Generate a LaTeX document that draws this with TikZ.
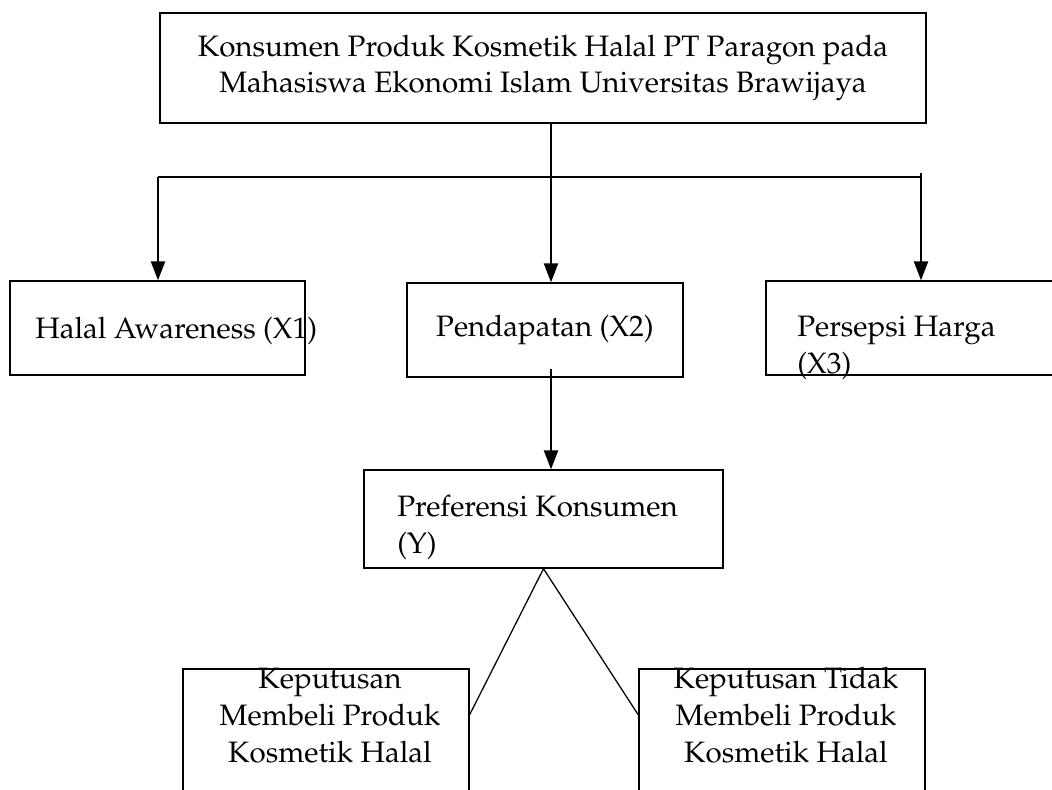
\documentclass[tikz,border=0pt]{standalone}
\usepackage[T1]{fontenc}
\usepackage{mathpazo}
\usetikzlibrary{arrows.meta}

\begin{document}
\begin{tikzpicture}[x=0.025cm, y=-0.025cm, >={Triangle[length=0.47cm,width=0.35cm]},
  kotak/.style={draw, line width=1pt, inner sep=0pt},
  teks/.style={inner sep=0pt, font=\fontsize{21}{26}\selectfont},
  panah/.style={->, line width=1.4pt}]
  \useasboundingbox (0,0) rectangle (1052,789);
  \node [kotak, teks, align=center, minimum width=19.15cm, minimum height=2.75cm] (konsumen) at (543,68)
    {Konsumen Produk Kosmetik Halal PT Paragon pada\\Mahasiswa Ekonomi Islam Universitas Brawijaya};
  \node [kotak, minimum width=7.375cm, minimum height=2.35cm] (x1) at (157.5,328) {};
  \node [kotak, teks, minimum width=6.9cm, minimum height=2.35cm] (x2) at (545,330) {Pendapatan (X2)};
  \node [kotak, minimum width=7.6cm, minimum height=2.35cm] (x3) at (918,328) {};
  \node [kotak, minimum width=8.975cm, minimum height=2.45cm] (pref) at (543.5,519) {};
  \node [kotak, minimum width=7.15cm, minimum height=3.525cm] (kpt1) at (326,739.5) {};
  \node [kotak, minimum width=7.15cm, minimum height=3.525cm] (kpt2) at (782,739.5) {};

  \node [teks, anchor=base west] (tx1) at (35,338) {Halal Awareness (X1)};
  \node [teks, anchor=base west, align=left] (tx3) at (797,373) {Persepsi Harga\\(X3)};
  \node [teks, anchor=base west, align=left] (tpref) at (397,553) {Preferensi Konsumen\\(Y)};
  \node [teks, anchor=base, align=center] (tkpt1) at (330,762) {Keputusan\\Membeli Produk\\Kosmetik Halal};
  \node [teks, anchor=base, align=center] (tkpt2) at (786,762) {Keputusan Tidak\\Membeli Produk\\Kosmetik Halal};

  \coordinate (cabang) at (551,177);
  \coordinate (barkiri) at (158,177);
  \coordinate (barkanan) at (920,177);
  \coordinate (ujungkanan) at (921,173);
  \coordinate (x2bawah) at (551,369);
  \coordinate (kiri) at (469,716);
  \coordinate (kanan) at (639,716);

  \draw [-, line width=1pt] (konsumen.south -| cabang) -- (cabang);
  \draw [-, line width=1.2pt] (barkiri) -- (barkanan);
  \draw [panah] (barkiri) -- (barkiri |- x1.north);
  \draw [panah] (cabang) -- (cabang |- x2.north);
  \draw [panah] (ujungkanan) -- (ujungkanan |- x3.north);
  \draw [panah] (x2bawah) -- (x2bawah |- pref.north);
  \draw [-, line width=0.9pt] (kiri) -- (pref.south) -- (kanan);
\end{tikzpicture}
\end{document}
